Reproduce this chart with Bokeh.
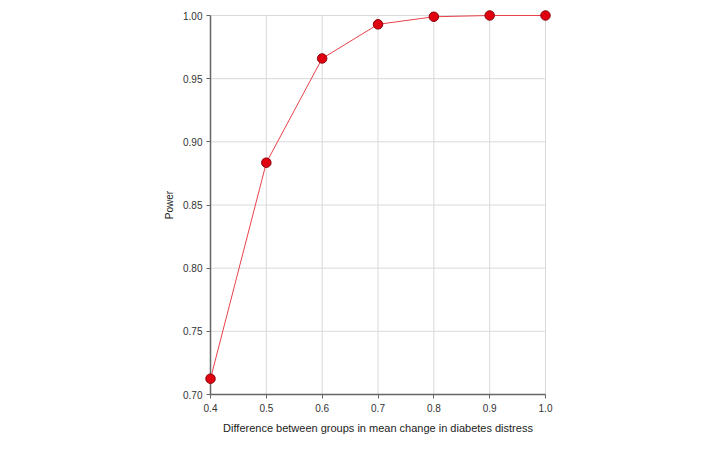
from bokeh.plotting import figure
from bokeh.models import Range1d, FixedTicker
from bokeh.embed import file_html
from bokeh.resources import INLINE

diff = [0.4, 0.5, 0.6, 0.7, 0.8, 0.9, 1.0]
power = [0.7125, 0.8835, 0.966, 0.993, 0.999, 1.0, 1.0]
x_ticks = [0.4, 0.5, 0.6, 0.7, 0.8, 0.9, 1.0]
y_ticks = [0.70, 0.75, 0.80, 0.85, 0.90, 0.95, 1.00]

PAD = 6
xpad = 0.6 / 335 * PAD
ypad = 0.3 / 379 * PAD
FONT = "Liberation Sans"

p = figure(output_backend="svg", toolbar_location=None,
           x_range=Range1d(x_ticks[0] - xpad, x_ticks[-1] + xpad),
           y_range=Range1d(y_ticks[0] - ypad, y_ticks[-1] + ypad),
           frame_width=347, frame_height=391,
           min_border_left=204, min_border_top=9,
           min_border_right=149, min_border_bottom=34)
p.outline_line_color = None
p.grid.visible = False

# grid lines limited to the data box
n_x, n_y = len(x_ticks), len(y_ticks)
p.segment(x0=x_ticks[1:], y0=[y_ticks[0]] * (n_x - 1), x1=x_ticks[1:], y1=[y_ticks[-1]] * (n_x - 1),
          line_color="#dadada", line_width=1)
p.segment(x0=[x_ticks[0]] * (n_y - 1), y0=y_ticks[1:], x1=[x_ticks[-1]] * (n_y - 1), y1=y_ticks[1:],
          line_color="#dadada", line_width=1)

# axis lines at the data edges
p.segment(x0=[x_ticks[0], x_ticks[0]], y0=[y_ticks[0], y_ticks[0]],
          x1=[x_ticks[0], x_ticks[-1]], y1=[y_ticks[-1], y_ticks[0]],
          line_color="#666666", line_width=1.5)

p.line(diff, power, line_color="#e8414a", line_width=1)
p.scatter(diff, power, size=9.5, fill_color="#e00010", line_color="#8a0008", line_width=1)

for ax, ticks, lab in ((p.xaxis[0], x_ticks, "Difference between groups in mean change in diabetes distress"),
                       (p.yaxis[0], y_ticks, "Power")):
    ax.ticker = FixedTicker(ticks=ticks)
    ax.axis_label = lab
    ax.axis_label_text_font = FONT
    ax.axis_label_text_font_style = "normal"
    ax.axis_label_text_font_size = "11px"
    ax.axis_label_text_color = "#222222"
    ax.major_label_text_font = FONT
    ax.major_label_text_font_size = "10px"
    ax.major_label_text_color = "#333333"
    ax.axis_line_color = None
    ax.major_tick_line_color = "#666666"
    ax.major_tick_in = PAD
    ax.major_tick_out = -2
    ax.minor_tick_line_color = None

p.yaxis[0].axis_label_text_font_size = "10px"
p.xaxis[0].major_label_overrides = {t: f"{t:.1f}" for t in x_ticks}
p.yaxis[0].major_label_overrides = {t: f"{t:.2f}" for t in y_ticks}
p.xaxis[0].major_label_standoff = 3
p.xaxis[0].axis_label_standoff = 7
p.yaxis[0].major_label_standoff = 2
p.yaxis[0].axis_label_standoff = 5

open("out.html", "w").write(file_html(p, INLINE))
